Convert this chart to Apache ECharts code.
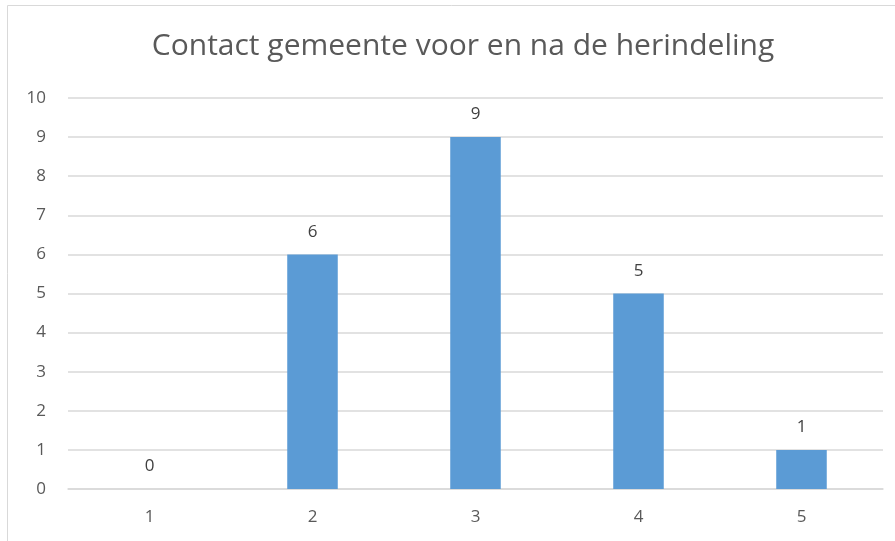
<!DOCTYPE html>
<html>
<head>
<meta charset="utf-8">
<script src="https://cdn.jsdelivr.net/npm/echarts@6/dist/echarts.min.js"></script>
<style>
  html, body { margin: 0; padding: 0; background: #fff; }
  #chart { width: 895px; height: 541px; }
</style>
</head>
<body>
<div id="chart"></div>
<script>
// chart data
const titleText = 'Contact gemeente voor en na de herindeling';
const categories = ['1', '2', '3', '4', '5'];
const values = [0, 6, 9, 5, 1];
const yTicks = { min: 0, max: 10, interval: 1 };

const chart = echarts.init(document.getElementById('chart'));

chart.setOption({
  animation: false,
  textStyle: { fontFamily: 'Open Sans' },
  title: {
    text: titleText,
    left: 458,
    top: 26,
    textAlign: 'center',
    textStyle: { fontSize: 30, fontWeight: 'normal', color: '#595959', fontFamily: 'Open Sans' }
  },
  // outer chart frame
  graphic: [{
    type: 'rect',
    shape: { x: 7.5, y: 5.5, width: 900, height: 560 },
    style: { fill: 'none', stroke: '#d9d9d9', lineWidth: 1 },
    silent: true
  }],
  grid: { left: 68, right: 12, top: 98, bottom: 52 },
  xAxis: {
    type: 'category',
    data: categories,
    axisLine: { lineStyle: { color: '#d9d9d9', width: 1.5 } },
    axisTick: { show: false },
    axisLabel: { color: '#595959', fontSize: 17, margin: 20 }
  },
  yAxis: {
    type: 'value',
    min: yTicks.min,
    max: yTicks.max,
    interval: yTicks.interval,
    axisLine: { show: false },
    axisTick: { show: false },
    splitLine: { lineStyle: { color: '#d9d9d9', width: 1.5 } },
    axisLabel: { color: '#595959', fontSize: 17, margin: 22 }
  },
  series: [{
    type: 'bar',
    data: values,
    barWidth: '31%',
    itemStyle: { color: '#5b9bd5' },
    label: {
      show: true,
      position: 'top',
      distance: 14,
      color: '#404040',
      fontSize: 17
    }
  }]
});
</script>
</body>
</html>
